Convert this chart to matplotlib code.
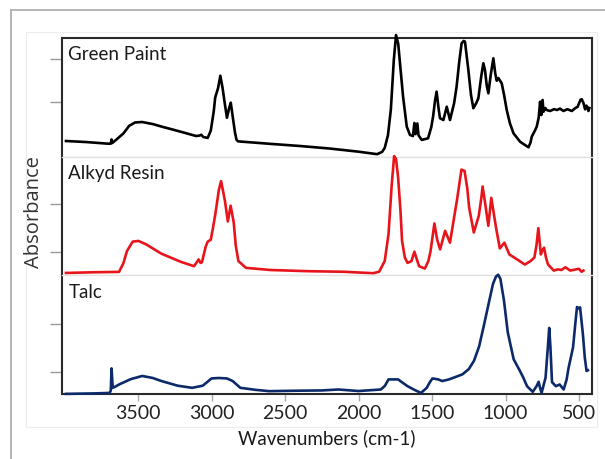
import matplotlib.pyplot as plt
from matplotlib.lines import Line2D
from matplotlib.patches import Rectangle

# spectra (wavenumber cm-1, absorbance in panel units 0-100)
gp_wn = [3990, 3850, 3700, 3685, 3680, 3675, 3650, 3600, 3560, 3520, 3472, 3400, 3330, 3262,
         3180, 3105, 3080, 3070, 3055, 3026, 3005, 2985, 2975, 2955, 2940, 2925, 2910, 2895,
         2880, 2869, 2855, 2840, 2830, 2820, 2600, 2400, 2200, 2000, 1874, 1840, 1822, 1800,
         1780, 1760, 1745, 1730, 1718, 1697, 1672, 1650, 1630, 1620, 1612, 1600, 1592, 1570,
         1527, 1505, 1493, 1480, 1469, 1455, 1446, 1423, 1400, 1378, 1350, 1333, 1315, 1299,
         1285, 1276, 1253, 1235, 1219, 1200, 1185, 1165, 1151, 1140, 1128, 1117, 1101, 1083,
         1070, 1060, 1049, 1026, 1010, 992, 970, 946, 901, 870, 844, 830, 822, 800, 788, 775,
         768, 765, 760, 757, 752, 748, 742, 730, 720, 697, 670, 650, 630, 606, 580, 549, 525,
         510, 490, 482, 470, 459, 450, 445, 436, 430]
gp_abs = [13.2, 12.3, 10.9, 11.0, 14.5, 11.5, 14.1, 19.5, 26.0, 28.8, 29.2, 27.5, 25.0, 22.8,
          20.0, 17.4, 17.8, 18.5, 16.5, 15.8, 22.0, 38.0, 49.8, 58.0, 68.2, 58.0, 45.0, 32.8,
          41.0, 45.5, 33.0, 20.0, 14.3, 12.9, 10.8, 9.0, 6.9, 4.2, 2.1, 4.0, 7.3, 18.0,
          40.0, 81.5, 102.5, 95.0, 78.7, 50.5, 25.3, 18.3, 17.4, 28.4, 19.0, 28.0, 18.0, 14.1,
          15.5, 25.0, 33.7, 47.0, 54.8, 40.0, 32.4, 30.9, 42.1, 30.9, 45.0, 59.0, 80.0, 95.5,
          97.5, 96.9, 73.0, 52.0, 40.8, 45.0, 49.2, 68.0, 78.7, 73.0, 60.0, 53.4, 68.8, 82.9,
          70.0, 64.0, 66.3, 61.8, 52.0, 39.3, 28.0, 19.7, 12.6, 10.0, 7.9, 12.0, 16.8, 22.0, 25.3, 32.6,
          42.0, 46.3, 38.0, 35.1, 44.0, 47.8, 37.9, 41.0, 39.3, 38.5, 40.0, 39.3, 40.5, 38.5, 40.0, 38.5, 41.0,
          42.0, 48.0, 48.4, 45.2, 39.9, 43.0, 41.9, 38.5, 41.0]

ar_wn = [3990, 3800, 3629, 3600, 3575, 3536, 3497, 3445, 3340, 3209, 3119, 3095, 3088, 3075,
         3065, 3040, 3026, 3005, 2990, 2974, 2950, 2935, 2920, 2909, 2889, 2870, 2849, 2835,
         2817, 2766, 2600, 2346, 2100, 1901, 1860, 1822, 1796, 1775, 1758, 1745, 1731, 1715,
         1704, 1685, 1667, 1640, 1620, 1605, 1588, 1549, 1525, 1510, 1484, 1465, 1445, 1411,
         1378, 1355, 1331, 1300, 1279, 1260, 1248, 1216, 1182, 1165, 1156, 1138, 1117, 1097,
         1080, 1065, 1039, 1008, 974, 921, 869, 830, 804, 790, 777, 768, 760, 750, 738, 725,
         711, 672, 646, 620, 593, 560, 541, 501, 483, 470]
ar_abs = [2.0, 2.6, 2.9, 10.0, 20.5, 28.4, 29.0, 26.1, 18.2, 11.4, 7.7, 12.0, 13.4, 10.5,
          11.0, 24.0, 28.4, 30.0, 40.0, 51.6, 72.0, 79.4, 70.0, 63.0, 45.4, 58.7, 44.6, 25.0,
          12.0, 6.3, 4.5, 3.5, 3.0, 1.8, 3.0, 12.0, 34.8, 75.0, 100.5, 98.0, 82.8, 55.0,
          29.0, 15.0, 10.5, 12.0, 19.9, 14.0, 7.7, 5.7, 12.0, 20.5, 43.7, 30.0, 21.9, 37.5,
          27.5, 45.0, 63.0, 89.1, 88.0, 73.0, 57.4, 36.1, 50.2, 65.0, 74.9, 60.0, 41.7, 65.3,
          52.0, 40.4, 22.7, 27.5, 17.6, 13.4, 9.1, 12.0, 15.0, 25.0, 39.8, 28.0, 17.6, 21.0, 23.3, 15.0,
          9.1, 4.0, 5.0, 4.5, 6.8, 4.0, 4.5, 5.5, 3.0, 4.0]

tc_wn = [3990, 3800, 3693, 3685, 3680, 3672, 3650, 3629, 3550, 3471, 3400, 3340, 3230, 3132,
         3060, 3030, 3000, 2950, 2895, 2856, 2804, 2700, 2608, 2400, 2250, 2136, 2000, 1848,
         1820, 1796, 1731, 1700, 1667, 1620, 1575, 1536, 1515, 1497, 1458, 1430, 1385, 1294,
         1250, 1215, 1180, 1150, 1110, 1085, 1065, 1050, 1035, 1011, 985, 945, 908, 880, 854, 815, 789,
         775, 765, 755, 728, 712, 703, 695, 684, 658, 632, 605, 585, 571, 541, 525, 514, 500,
         493, 474, 461, 449, 440]
tc_abs = [0.1, 0.5, 0.9, 3.0, 21.6, 5.2, 6.5, 8.0, 12.5, 15.2, 13.5, 10.9, 7.0, 5.2,
          7.0, 10.0, 13.1, 13.5, 13.1, 10.9, 5.2, 3.5, 2.4, 2.8, 3.0, 3.8, 2.5, 3.8,
          7.0, 12.3, 12.3, 9.5, 6.6, 3.5, 0.9, 5.2, 10.0, 13.1, 12.3, 10.9, 12.3, 16.5,
          21.0, 27.9, 40.0, 56.3, 79.0, 93.0, 99.0, 100.5, 97.0, 79.0, 52.0, 29.3, 20.8, 14.0, 6.6, 1.8, 6.6,
          10.3, 5.0, 0.9, 13.7, 40.0, 55.7, 40.0, 10.0, 6.6, 8.0, 3.8, 12.0, 22.2, 39.3, 60.0, 73.3, 72.0,
          73.0, 50.5, 30.7, 19.4, 20.0]

names = ["Green Paint", "Alkyd Resin", "Talc"]
colors = ["#000000", "#e8141c", "#0c2a6a"]
ytick_sets = [[46, 82], [20, 60], [18.5, 59]]
xticks = [3500, 3000, 2500, 2000, 1500, 1000, 500]

fig = plt.figure(figsize=(6.05, 4.59), dpi=100)
W, H = 605, 459

# frame decorations around the chart
fig.add_artist(Line2D([11 / W, 11 / W], [0, 1 - 10 / H], color="#b0b0b0", lw=1.3))
fig.add_artist(Line2D([11 / W, 1], [1 - 10 / H, 1 - 10 / H], color="#b0b0b0", lw=1.3))
fig.add_artist(Rectangle((26 / W, 1 - 427 / H), (597 - 26) / W, (427 - 32) / H,
                         fill=False, edgecolor="#ececec", lw=0.8))

left, right, top, bottom = 62 / W, 592 / W, 1 - 38 / H, 1 - 394 / H
ph = (top - bottom) / 3
spectra = [(gp_wn, gp_abs), (ar_wn, ar_abs), (tc_wn, tc_abs)]

for i in range(3):
    ax = fig.add_axes([left, top - (i + 1) * ph, right - left, ph])
    wn, ab = spectra[i]
    ax.plot(wn, ab, color=colors[i], lw=1.9, clip_on=False, zorder=5,
            solid_joinstyle="round")
    ax.set_xlim(4017, 412)
    ax.set_ylim(0, 100)
    ax.set_yticks(ytick_sets[i])
    ax.tick_params(axis="y", direction="out", length=9, width=1, color="#999999",
                   labelleft=False)
    for s in ["left", "right", "top", "bottom"]:
        ax.spines[s].set_color("#2a2a2a")
        ax.spines[s].set_linewidth(1.5)
    if i > 0:
        ax.spines["top"].set_color("#e2e2e2")
        ax.spines["top"].set_linewidth(1.0)
    if i < 2:
        ax.spines["bottom"].set_color("#e2e2e2")
        ax.spines["bottom"].set_linewidth(1.0)
    ax.set_xticks(xticks)
    if i < 2:
        ax.tick_params(axis="x", length=0, labelbottom=False)
    else:
        ax.tick_params(axis="x", direction="out", length=5, width=1, color="#aaaaaa",
                       labelsize=14, labelcolor="#222222", pad=3)
        for lab in ax.get_xticklabels():
            lab.set_family("Lato")
    ax.text(0.012, 0.93, names[i], transform=ax.transAxes, ha="left", va="top",
            fontsize=13.5, family="Lato", color="#1a1a1a")

fig.text((left + right) / 2, 1 - 438 / H, "Wavenumbers (cm-1)", ha="center", va="center",
         fontsize=13.5, family="Lato", color="#1a1a1a")
fig.text(34 / W, 1 - 212 / H, "Absorbance", rotation=90, ha="center", va="center",
         fontsize=14.5, family="Open Sans", color="#333333")

fig.savefig("out.png", dpi=100)
